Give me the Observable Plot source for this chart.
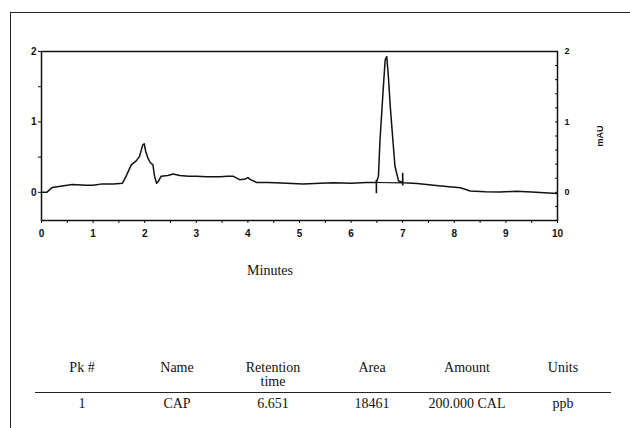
<!DOCTYPE html>
<html>
<head>
<meta charset="utf-8">
<script src="https://cdn.jsdelivr.net/npm/d3@7"></script>
<script src="https://cdn.jsdelivr.net/npm/@observablehq/plot@0.6"></script>
<style>
  html, body { margin: 0; padding: 0; background: #fff; overflow: hidden; }
  #wrap { position: relative; width: 630px; height: 428px; overflow: hidden; background: #fff; }
  #border { position: absolute; left: 10px; top: 12px; width: 640px; height: 440px; border: 1.5px solid #222; box-sizing: border-box; }
  #chart { position: absolute; left: 0; top: 0; }
  .serif { font-family: "Liberation Serif", "DejaVu Serif", serif; color: #111; font-size: 14px; position: absolute; white-space: nowrap; transform: translate(-50%, -50%); line-height: 1; }
  #rule { position: absolute; left: 35px; top: 392px; width: 576px; height: 0; border-top: 1.5px solid #222; }
</style>
</head>
<body>
<div id="wrap">
  <div id="border"></div>
  <div id="chart"></div>
</div>
<script>
// Chromatogram trace (time in minutes, absorbance in mAU)
const times = [0, 0.1, 0.21, 0.4, 0.6, 0.86, 1.0, 1.18, 1.4, 1.57, 1.64, 1.74, 1.84, 1.9, 1.96, 1.99, 2.02, 2.06, 2.11, 2.16, 2.19, 2.23, 2.26, 2.32, 2.45, 2.55, 2.68, 2.85, 3.0, 3.2, 3.46, 3.6, 3.71, 3.84, 3.95, 4.0, 4.05, 4.17, 4.4, 4.75, 5.07, 5.4, 5.66, 6.0, 6.3, 6.49, 6.53, 6.56, 6.62, 6.66, 6.69, 6.72, 6.76, 6.81, 6.85, 6.92, 7.02, 7.28, 7.6, 7.9, 8.12, 8.31, 8.6, 8.89, 9.2, 9.5, 9.99];
const absorb = [0, 0.0, 0.07, 0.09, 0.11, 0.1, 0.1, 0.12, 0.12, 0.13, 0.23, 0.39, 0.45, 0.51, 0.67, 0.69, 0.58, 0.49, 0.42, 0.39, 0.23, 0.13, 0.15, 0.23, 0.24, 0.26, 0.24, 0.23, 0.23, 0.22, 0.22, 0.23, 0.23, 0.18, 0.19, 0.21, 0.18, 0.14, 0.14, 0.13, 0.12, 0.13, 0.135, 0.13, 0.14, 0.14, 0.23, 0.74, 1.44, 1.88, 1.93, 1.67, 1.21, 0.74, 0.37, 0.16, 0.135, 0.126, 0.1, 0.08, 0.065, 0.02, 0.01, 0.005, 0.015, 0.005, -0.015];

// Peak integration markers
const markTimes = [6.49, 7.0];
const markLow = [-0.02, 0.09];
const markHigh = [0.17, 0.27];
const markBase = [0.14, 0.135];

// Result table
const tableHeaders = ["Pk #", "Name", "Retention", "Area", "Amount", "Units"];
const tableHeaders2 = ["", "", "time", "", "", ""];
const tableRow = ["1", "CAP", "6.651", "18461", "200.000 CAL", "ppb"];
const tableColX = [82, 177, 273, 372, 467, 563];

const trace = times.map((t, i) => ({t, v: absorb[i]}));
const markers = markTimes.map((t, i) => ({t, lo: markLow[i], hi: markHigh[i], base: markBase[i]}));

const isInt = d => Math.abs(d - Math.round(d)) < 1e-9;
const fmtInt = d => isInt(d) ? String(Math.round(d)) : "";

const chart = Plot.plot({
  width: 630,
  height: 285,
  marginLeft: 41,
  marginRight: 73,
  marginTop: 51,
  marginBottom: 65,
  style: {background: "transparent", fontFamily: "Liberation Sans, Arial, sans-serif", color: "#111"},
  x: {domain: [0, 10]},
  y: {domain: [-0.4, 2]},
  marks: [
    Plot.frame({stroke: "#111", strokeWidth: 1.5}),
    Plot.axisX({ticks: d3.range(0, 10.001, 0.5), tickFormat: fmtInt, tickSize: 3, tickPadding: 6, fontWeight: "bold", fontSize: 10, label: null}),
    Plot.axisY({anchor: "left", ticks: d3.range(0, 2.001, 0.5), tickFormat: fmtInt, tickSize: 3, tickPadding: 2, fontWeight: "bold", fontSize: 10, label: null}),
    Plot.axisY({anchor: "right", ticks: d3.range(-0.2, 2.001, 0.2), tickFormat: fmtInt, tickSize: -3, tickPadding: 10, fontWeight: "bold", fontSize: 9, label: "mAU", labelAnchor: "center", labelOffset: 45, labelArrow: "none"}),
    Plot.line(trace, {x: "t", y: "v", stroke: "#111", strokeWidth: 1.5, curve: "linear"}),
    Plot.line(markers, {x: "t", y: "base", stroke: "#111", strokeWidth: 1.1}),
    Plot.ruleX(markers, {x: "t", y1: "lo", y2: "hi", stroke: "#111", strokeWidth: 1.6})
  ]
});
document.getElementById("chart").appendChild(chart);

const wrap = document.getElementById("wrap");
function addText(txt, x, y) {
  if (!txt) return;
  const s = document.createElement("div");
  s.className = "serif";
  s.textContent = txt;
  s.style.left = x + "px";
  s.style.top = y + "px";
  wrap.appendChild(s);
}
addText("Minutes", 270, 271);
tableHeaders.forEach((h, i) => addText(h, tableColX[i], 368));
tableHeaders2.forEach((h, i) => addText(h, tableColX[i], 382));
tableRow.forEach((h, i) => addText(h, tableColX[i], 404));
const rule = document.createElement("div");
rule.id = "rule";
wrap.appendChild(rule);
</script>
</body>
</html>
